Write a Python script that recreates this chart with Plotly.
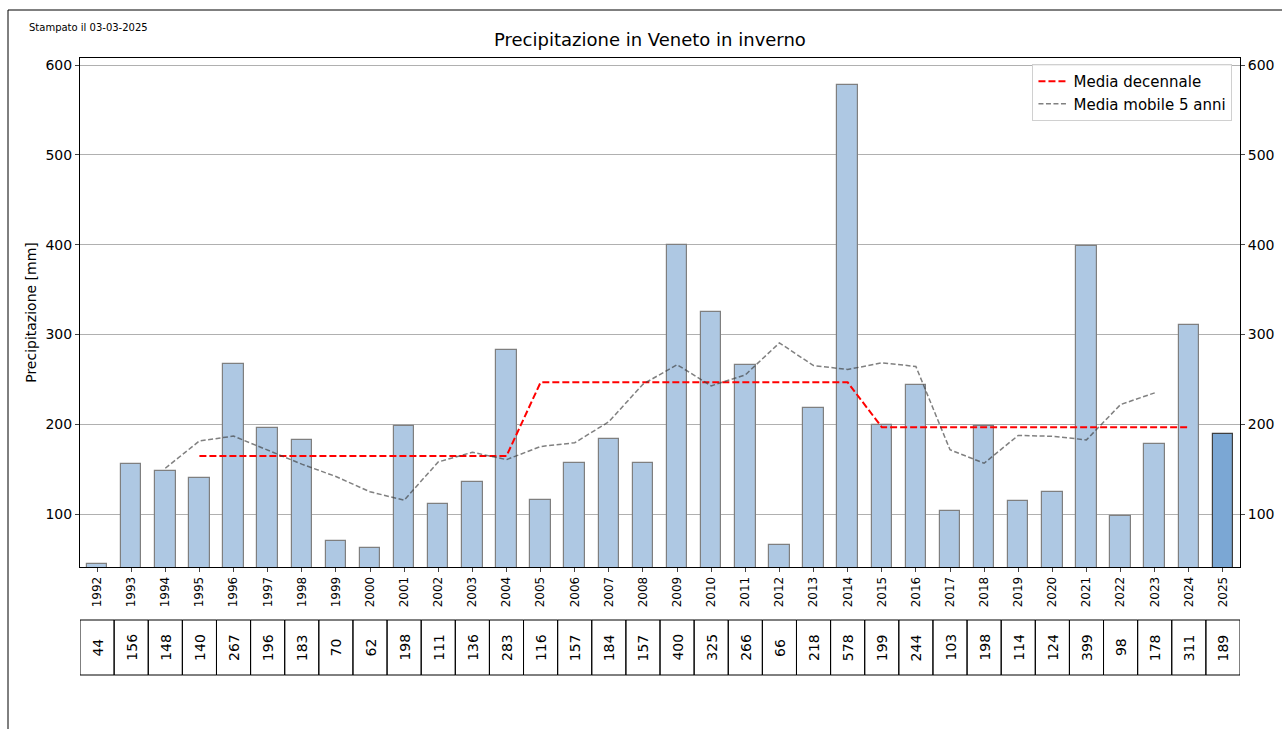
import plotly.graph_objects as go

years = list(range(1992, 2026))
precip = [44, 156, 148, 140, 267, 196, 183, 70, 62, 198, 111, 136, 283, 116, 157,
          184, 157, 400, 325, 266, 66, 218, 578, 199, 244, 103, 198, 114, 124, 399,
          98, 178, 311, 189]

ma_years = list(range(1994, 2024))
ma_values = [151.0, 181.4, 186.8, 171.2, 155.6, 141.8, 124.8, 115.4, 158.0, 168.8,
             160.6, 175.2, 179.4, 202.8, 244.6, 266.4, 242.8, 255.0, 290.6, 265.4,
             261.0, 268.4, 264.4, 171.6, 156.6, 187.6, 186.6, 182.6, 222.0, 235.0]

dec_years = list(range(1995, 2025))
dec_values = [164.6] * 10 + [246.7] * 10 + [196.8] * 10

W, H = 1282, 729
L, R, T, B = 80, 1240, 58, 567
pw, ph = R - L, B - T

def px_x(x):
    return (x - L) / pw

def px_y(y):
    return (B - y) / ph

FONT = "DejaVu Sans"

bar_colors = ["#aec8e3"] * (len(years) - 1) + ["#7ba7d4"]
bar_lines = ["#7f7f7f"] * (len(years) - 1) + ["#3f3f3f"]

fig = go.Figure()
fig.add_trace(go.Bar(x=years, y=precip, width=0.6, marker=dict(color=bar_colors,
              line=dict(color=bar_lines, width=1.2)), showlegend=False, hoverinfo="x+y"))
fig.add_trace(go.Scatter(x=dec_years, y=dec_values, mode="lines", name="Media decennale",
              line=dict(color="red", width=2, dash="7px,3px")))
fig.add_trace(go.Scatter(x=ma_years, y=ma_values, mode="lines", name="Media mobile 5 anni",
              line=dict(color="rgba(60,60,60,0.65)", width=1.5, dash="5px,2.5px")))
# invisible trace for right axis
fig.add_trace(go.Scatter(x=[years[0]], y=[precip[0]], yaxis="y2", mode="markers",
              marker=dict(opacity=0), showlegend=False, hoverinfo="skip"))

yrange = [41, 608]
ticks = [100, 200, 300, 400, 500, 600]

shapes = []
annotations = []
# table below the axis
t_top, t_bot = px_y(620), px_y(675)
for yr, v in zip(years, precip):
    shapes.append(dict(type="rect", xref="x", yref="paper", x0=yr - 0.5, x1=yr + 0.5,
                       y0=t_bot, y1=t_top, line=dict(color="black", width=1)))
    annotations.append(dict(x=yr, y=(t_top + t_bot) / 2, xref="x", yref="paper",
                            text=str(v), showarrow=False, textangle=-90,
                            xanchor="center", yanchor="middle",
                            font=dict(family=FONT, size=14, color="black")))
# figure border
shapes.append(dict(type="rect", xref="paper", yref="paper", x0=px_x(8), x1=px_x(W + 20),
                   y0=px_y(H + 20), y1=px_y(10), line=dict(color="black", width=1)))

annotations.append(dict(x=px_x(27), y=px_y(27), xref="paper", yref="paper",
                        text="Stampato il 03-03-2025", showarrow=False, xanchor="left",
                        yanchor="middle", font=dict(family=FONT, size=10, color="black")))
annotations.append(dict(x=px_x(650), y=px_y(39), xref="paper", yref="paper",
                        text="Precipitazione in Veneto in inverno", showarrow=False,
                        xanchor="center", yanchor="middle",
                        font=dict(family=FONT, size=18, color="black")))

fig.update_layout(
    width=W, height=H,
    margin=dict(l=L, r=W - R, t=T, b=H - B, pad=0, autoexpand=False),
    paper_bgcolor="white", plot_bgcolor="white",
    font=dict(family=FONT, size=13, color="black"),
    bargap=0,
    xaxis=dict(range=[1991.5, 2025.5], tickmode="array", tickvals=years,
               ticktext=[str(y) for y in years], tickangle=-90,
               tickfont=dict(size=12), ticks="outside", ticklen=4, automargin=False,
               showline=True, linecolor="black", linewidth=1, mirror=True,
               showgrid=False, zeroline=False),
    yaxis=dict(range=yrange, tickvals=ticks, ticks="outside", ticklen=4,
               tickfont=dict(size=14), automargin=False,
               showline=True, linecolor="black", linewidth=1, mirror=True,
               showgrid=True, gridcolor="#b0b0b0", gridwidth=1, zeroline=False,
               title=dict(text="Precipitazione [mm]", font=dict(size=14), standoff=5)),
    yaxis2=dict(range=yrange, tickvals=ticks, ticks="outside", ticklen=4,
                tickfont=dict(size=14), overlaying="y", side="right", automargin=False,
                showgrid=False, zeroline=False, showline=False),
    legend=dict(x=0.9935, y=0.988, xanchor="right", yanchor="top",
                bgcolor="rgba(255,255,255,0.8)", bordercolor="#d0d0d0", borderwidth=1,
                font=dict(size=15), tracegroupgap=0),
    shapes=shapes, annotations=annotations,
    showlegend=True,
)

fig.write_html("out.html", config={"displayModeBar": False},
               post_script="document.body.style.margin='0';document.body.style.overflow='hidden';")
